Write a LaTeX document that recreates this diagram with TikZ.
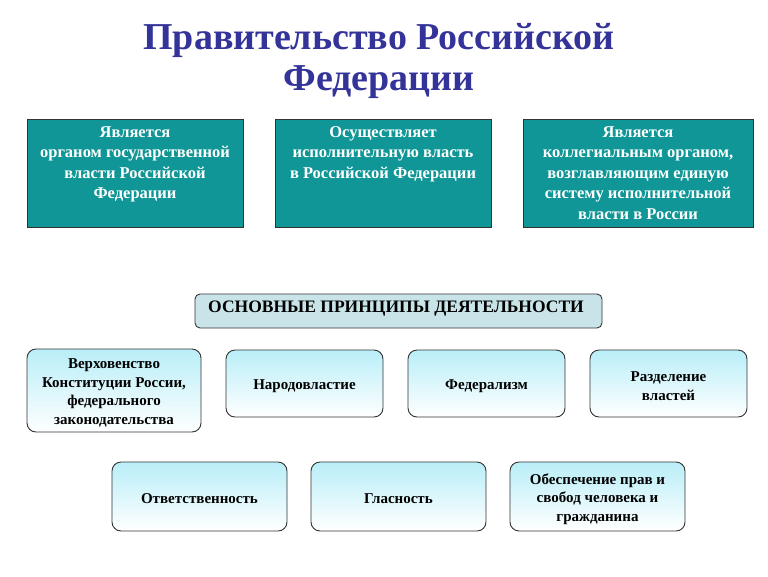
\documentclass[tikz,border=0pt]{standalone}
\usepackage{fontspec}
\setmainfont{Liberation Serif}
\definecolor{titleblue}{RGB}{51,51,153}
\definecolor{tealbox}{RGB}{16,150,150}
\definecolor{bannerfill}{RGB}{200,228,232}
\definecolor{princtop}{RGB}{185,238,248}
\tikzset{
  x=1pt,y=-1pt,
  tealframe/.style={draw=black!80,line width=0.8pt,fill=tealbox},
  tealtext/.style={text=white,font=\bfseries\fontsize{16.5}{20.5}\selectfont,align=center,anchor=north,inner sep=0pt},
  princ/.style={draw=black!80,line width=0.9pt,rounded corners=9pt,top color=princtop,bottom color=white},
  princtext/.style={align=center,font=\bfseries\fontsize{15}{18.5}\selectfont,text=black},
  banner/.style={draw=black!80,line width=0.9pt,rounded corners=5pt,fill=bannerfill},
}
\newcommand{\pbox}[6]{% name, x1,y1,x2,y2,text
  \path[princ] (#2,#3) rectangle (#4,#5);
  \node[princtext] (#1) at ({(#2+#4)/2},{(#3+#5)/2+2.5}) {#6};
}
\begin{document}
\begin{tikzpicture}
\useasboundingbox (0,0) rectangle (768,576);
\node[font=\bfseries\fontsize{38}{41}\selectfont,text=titleblue,align=center] (title) at (379,61) {Правительство Российской\\Федерации};
% teal boxes
\path[tealframe] (27,119) rectangle (243,227);
\node[tealtext] (t1) at (135,126) {Является\\органом государственной\\власти Российской\\Федерации};
\path[tealframe] (275,119) rectangle (491,227);
\node[tealtext] (t2) at (383,126) {Осуществляет\\исполнительную власть\\в Российской Федерации};
\path[tealframe] (523,119) rectangle (753,227);
\node[tealtext] (t3) at (638,126) {Является\\коллегиальным органом,\\возглавляющим единую\\систему исполнительной\\власти в России};
% banner
\path[banner] (195,294) rectangle (602,328);
\node[font=\bfseries\fontsize{17.5}{20}\selectfont] (ban) at (396,309) {ОСНОВНЫЕ ПРИНЦИПЫ ДЕЯТЕЛЬНОСТИ};
% principles
\pbox{pa}{27}{349}{201}{432}{Верховенство\\Конституции России,\\федерального\\законодательства}
\pbox{pb}{226}{350}{383}{417}{Народовластие}
\pbox{pc}{408}{350}{565}{417}{Федерализм}
\pbox{pd}{590}{350}{747}{417}{Разделение\\властей}
\pbox{pe}{112}{462}{287}{531}{Ответственность}
\pbox{pf}{311}{462}{486}{531}{Гласность}
\pbox{pg}{510}{462}{685}{531}{Обеспечение прав и\\свобод человека и\\гражданина}
\end{tikzpicture}
\end{document}
